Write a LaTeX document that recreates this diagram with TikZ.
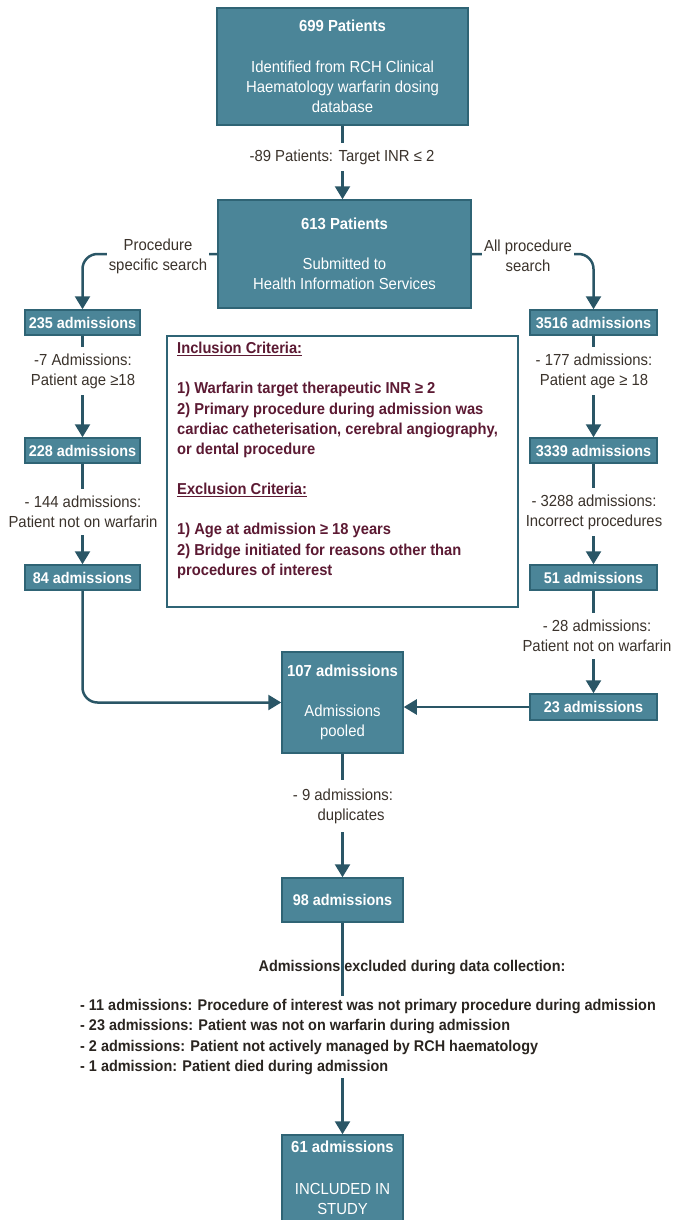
\documentclass[tikz,border=0pt]{standalone}
\usepackage{fontspec}
\setmainfont{Liberation Sans}[FakeStretch=0.93]
\usetikzlibrary{arrows.meta}
\definecolor{boxfill}{HTML}{4B8598}
\definecolor{boxline}{HTML}{2F6475}
\definecolor{arrowcol}{HTML}{2A5666}
\definecolor{labelcol}{HTML}{3B332C}
\definecolor{inclcol}{HTML}{5C1A33}
\definecolor{listcol}{HTML}{2A2520}
\tikzset{
  box/.style={draw=boxline, fill=boxfill, line width=1.5pt, text=white, align=center,
    inner sep=0pt, font=\fontsize{16}{20}\selectfont},
  sbox/.style={box, font=\fontsize{15.5}{20}\selectfont\bfseries},
  lbl/.style={text=labelcol, align=center, fill=white, inner xsep=2pt, inner ysep=7pt,
    font=\fontsize{16}{20}\selectfont},
  arr/.style={draw=arrowcol, line width=2.5pt, -{Triangle[length=13pt,width=15pt]}}
}
\begin{document}
\begin{tikzpicture}[x=1pt,y=-1pt]
\useasboundingbox (0,0) rectangle (681,1220);

% boxes
\node[box, minimum width=251, minimum height=117] (p699) at (342.5,66.5)
  {\textbf{699 Patients}\\[21pt]Identified from RCH Clinical\\Haematology warfarin dosing\\database};
\node[box, minimum width=253, minimum height=108] (p613) at (344.5,254)
  {\textbf{613 Patients}\\[20pt]Submitted to\\Health Information Services};
\node[sbox, minimum width=115, minimum height=25] (a235) at (82.5,322.5) {235 admissions};
\node[sbox, minimum width=127, minimum height=25] (a3516) at (593.5,322.5) {3516 admissions};
\node[sbox, minimum width=115, minimum height=25] (a228) at (82.5,450.5) {228 admissions};
\node[sbox, minimum width=127, minimum height=25] (a3339) at (593.5,450.5) {3339 admissions};
\node[sbox, minimum width=115, minimum height=25] (a84) at (82.5,577.5) {84 admissions};
\node[sbox, minimum width=127, minimum height=25] (a51) at (593.5,577.5) {51 admissions};
\node[sbox, minimum width=127, minimum height=26] (a23) at (593.5,707) {23 admissions};
\node[box, minimum width=121, minimum height=101] (a107) at (342.5,702.5)
  {\textbf{107 admissions}\\[20pt]Admissions\\pooled};
\node[sbox, minimum width=121, minimum height=44] (a98) at (342.5,900) {98 admissions};
\node[box, minimum width=121, minimum height=86] (a61) at (342.5,1178)
  {\textbf{61 admissions}\\[22pt]INCLUDED IN\\STUDY};

% inclusion / exclusion box
\node[draw=boxline, line width=1.5pt, fill=white, minimum width=351, minimum height=271, inner sep=0pt] (incl) at (342.5,471.5) {};
\node[anchor=north west, align=left, text=inclcol, inner sep=0pt,
  font=\fontsize{15.8}{20.2}\selectfont\bfseries] (incltext) at (177,342)
  {\underline{Inclusion Criteria:}\\[20pt]
   1) Warfarin target therapeutic INR ≥ 2\\
   2) Primary procedure during admission was\\
   cardiac catheterisation, cerebral angiography,\\
   or dental procedure\\[20pt]
   \underline{Exclusion Criteria:}\\[20pt]
   1) Age at admission ≥ 18 years\\
   2) Bridge initiated for reasons other than\\
   procedures of interest};

% connectors
\draw[arr] (p699.south) -- (p699.south |- p613.north);
\draw[arr, rounded corners=15pt] (p613.west) -| (a235.north);
\draw[arr, rounded corners=15pt] (p613.east) -| (a3516.north);
\draw[arr] (a235) -- (a228);
\draw[arr] (a228) -- (a84);
\draw[arr] (a3516) -- (a3339);
\draw[arr] (a3339) -- (a51);
\draw[arr] (a51) -- (a23);
\draw[arr, rounded corners=15pt] (a84.south) |- (a107.west);
\draw[arr] (a23.west) -- (a23.west -| a107.east);
\draw[arr] (a107) -- (a98);
\draw[arr] (a98) -- (a61);

% labels
\node[lbl] (l89) at (342,157) {-89 Patients: Target INR ≤ 2};
\node[lbl, inner ysep=0pt] (lproc) at (158,256) {Procedure\\specific search};
\node[lbl, inner ysep=0pt] (lall) at (528,256) {All procedure\\search};
\node[lbl] (l7) at (83,371) {-7 Admissions:\\Patient age ≥18};
\node[lbl] (l144) at (83,512) {- 144 admissions:\\Patient not on warfarin};
\node[lbl] (l177) at (594,371) {- 177 admissions:\\Patient age ≥ 18};
\node[lbl] (l3288) at (594,512) {- 3288 admissions:\\Incorrect procedures};
\node[lbl] (l28) at (597,636) {- 28 admissions:\\Patient not on warfarin};
\node[lbl, inner ysep=9pt] (l9) at (343,806) {- 9 admissions:\\\hspace*{1em}duplicates};

% bottom exclusion texts
\node[text=listcol, font=\fontsize{15.5}{20}\selectfont\bfseries] (exhead) at (412,968)
  {Admissions excluded during data collection:};
\node[anchor=west, align=left, fill=white, text=listcol, inner xsep=0pt, inner ysep=3pt,
  font=\fontsize{15.5}{20.3}\selectfont\bfseries] (exlist) at (80,1037)
  {- 11 admissions: Procedure of interest was not primary procedure during admission\\
   - 23 admissions: Patient was not on warfarin during admission\\
   - 2 admissions: Patient not actively managed by RCH haematology\\
   - 1 admission: Patient died during admission};
\end{tikzpicture}
\end{document}
